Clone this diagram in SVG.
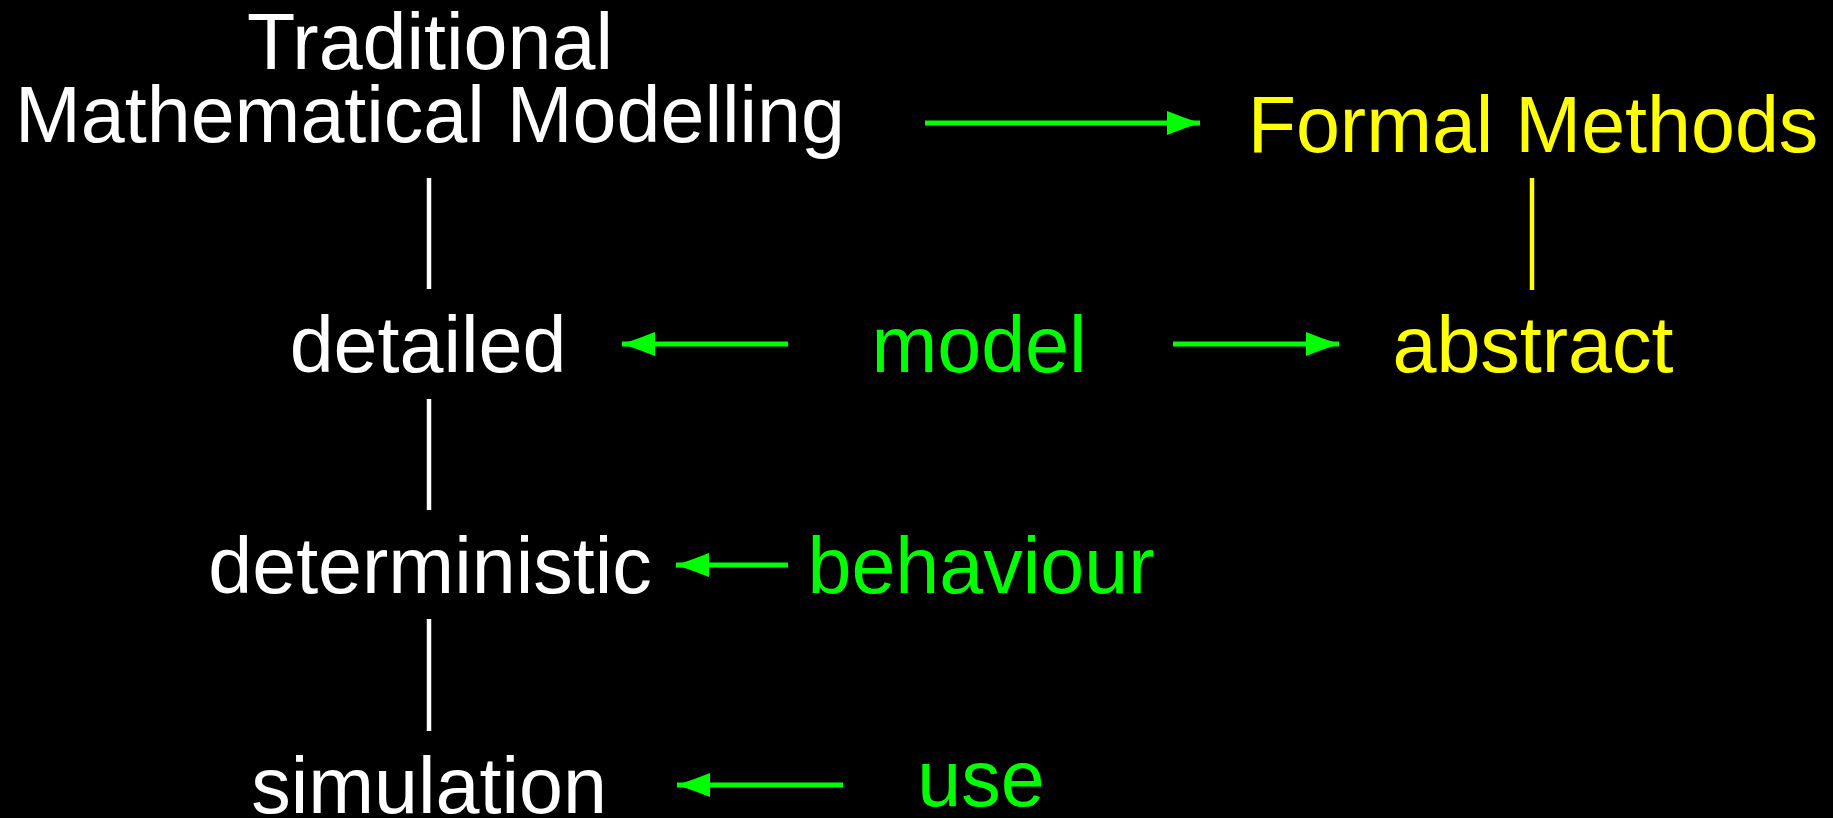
<svg xmlns="http://www.w3.org/2000/svg" width="1833" height="818" viewBox="0 0 1833 818">
  <style>
    text { font-family: "Liberation Sans", Arial, Helvetica, sans-serif; font-size: 79px; text-anchor: middle; }
    .w { fill: #ffffff; }
    .g { fill: #00ff00; }
    .y { fill: #ffff00; }
    .arrow { stroke: #00ff00; stroke-width: 5; fill: none; marker-end: url(#head); }
    .link { stroke-width: 4.5; fill: none; }
  </style>
  <defs>
    <!-- green arrowhead, tip at the line end -->
    <marker id="head" markerUnits="userSpaceOnUse" markerWidth="36" markerHeight="26" refX="33" refY="12" orient="auto">
      <path d="M0,0 Q16,6.5 33,12 Q16,17.5 0,24 Z" fill="#00ff00"/>
    </marker>
  </defs>
  <rect width="1833" height="818" fill="#000000"/>

  <g id="connectors">
    <line class="arrow" x1="925" y1="123" x2="1200" y2="123"/>
    <line class="arrow" x1="788" y1="344" x2="622" y2="344"/>
    <line class="arrow" x1="1173" y1="344" x2="1339" y2="344"/>
    <line class="arrow" x1="788" y1="565" x2="676" y2="565"/>
    <line class="arrow" x1="843" y1="785" x2="677" y2="785"/>
    <line class="link" stroke="#ffffff" x1="429" y1="178" x2="429" y2="289"/>
    <line class="link" stroke="#ffffff" x1="429" y1="399" x2="429" y2="510"/>
    <line class="link" stroke="#ffffff" x1="429" y1="619" x2="429" y2="731"/>
    <line class="link" stroke="#ffff00" x1="1532" y1="178" x2="1532" y2="290"/>
  </g>

  <g id="traditional-modelling">
    <text class="w" x="430" y="69">Traditional</text>
    <text class="w" x="430" y="142">Mathematical Modelling</text>
  </g>
  <g id="formal-methods">
    <text class="y" x="1533" y="152">Formal Methods</text>
  </g>
  <g id="detailed">
    <text class="w" x="428" y="372">detailed</text>
  </g>
  <g id="model">
    <text class="g" x="979" y="372">model</text>
  </g>
  <g id="abstract">
    <text class="y" x="1533" y="372">abstract</text>
  </g>
  <g id="deterministic">
    <text class="w" x="430" y="593">deterministic</text>
  </g>
  <g id="behaviour">
    <text class="g" x="981" y="593">behaviour</text>
  </g>
  <g id="simulation">
    <text class="w" x="429" y="813">simulation</text>
  </g>
  <g id="use">
    <text class="g" x="981" y="806">use</text>
  </g>
</svg>
